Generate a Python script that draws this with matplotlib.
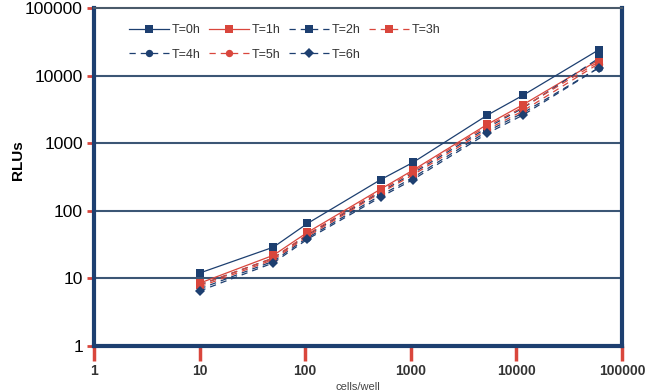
import numpy as np
import matplotlib
matplotlib.use("Agg")
from matplotlib import pyplot as plt
from matplotlib.ticker import FixedLocator, NullLocator

plt.rcParams['font.family'] = ['Liberation Sans', 'DejaVu Sans']

# cells per well (x) and RLU readings per time point
cells = [10, 50, 105, 520, 1050, 5300, 11500, 60000]
t0h = [12, 29, 65, 290, 520, 2600, 5100, 24000]
t1h = [8.5, 22, 48, 210, 400, 1900, 3700, 17000]
t2h = [8, 20, 44, 190, 360, 1700, 3300, 18000]
t3h = [8, 20, 45, 200, 380, 1800, 3400, 16000]
t4h = [7, 18, 40, 170, 310, 1500, 2800, 13000]
t5h = [7.5, 19, 42, 185, 340, 1600, 3000, 15000]
t6h = [6.5, 17, 38, 160, 290, 1400, 2600, 13000]

labels = ['T=0h', 'T=1h', 'T=2h', 'T=3h', 'T=4h', 'T=5h', 'T=6h']
series = [t0h, t1h, t2h, t3h, t4h, t5h, t6h]

navy = '#1d3f70'
red = '#d9463c'
styles = [
    (navy, '-', 's'),
    (red, '-', 's'),
    (navy, (0, (5, 4)), 's'),
    (red, (0, (5, 4)), 's'),
    (navy, (0, (5, 4)), 'o'),
    (red, (0, (5, 4)), 'o'),
    (navy, (0, (5, 4)), 'D'),
]

fig = plt.figure(figsize=(6.51, 3.91), dpi=100)
ax = fig.add_axes([0.1444, 0.1151, 0.8111, 0.8644])

handles = []
for vals, lab, (c, ls, m) in zip(series, labels, styles):
    h, = ax.plot(cells, vals, color=c, linestyle=ls, lw=0.9, marker=m,
                 markersize=5.3, markeredgewidth=0, label=lab)
    handles.append(h)

ax.set_xscale('log')
ax.set_yscale('log')
ax.set_xlim(1, 100000)
ax.set_ylim(1, 100000)

decades = [1, 10, 100, 1000, 10000, 100000]
ax.xaxis.set_major_locator(FixedLocator(decades))
ax.yaxis.set_major_locator(FixedLocator(decades))
ax.xaxis.set_minor_locator(NullLocator())
ax.yaxis.set_minor_locator(NullLocator())
ax.set_xticklabels([str(d) for d in decades], fontsize=10, fontweight='bold', color='#333333')
ax.set_yticklabels([str(d) for d in decades], fontsize=12.5, color='black')
ax.tick_params(axis='x', direction='out', length=11, width=2.5, color=red, pad=2)
ax.tick_params(axis='y', direction='out', length=5, width=2, color=red, pad=3)

# horizontal grid only
for g in [10, 100, 1000, 10000]:
    ax.axhline(g, color='#3b5675', lw=1.5, zorder=0)

for side in ['left', 'right', 'bottom']:
    ax.spines[side].set_color(navy)
    ax.spines[side].set_linewidth(3)
ax.spines['top'].set_color('#4a5a6a')
ax.spines['top'].set_linewidth(1.5)

fig.text(0.028, 0.59, 'RLUs', rotation=90, fontsize=11, fontweight='bold',
         ha='center', va='center')
ax.set_xlabel('cells/well', fontsize=8, color='#444444', labelpad=3)

# legend filled row by row: T=0h..T=3h on top, T=4h..T=6h below
order = [0, 4, 1, 5, 2, 6, 3]
leg = ax.legend([handles[i] for i in order], [labels[i] for i in order],
                loc='upper left', ncol=4, frameon=False, fontsize=9,
                handlelength=3.2, handletextpad=0.2, columnspacing=0.7,
                labelspacing=1.0, bbox_to_anchor=(0.045, 0.985))
for t in leg.get_texts():
    t.set_color('#333333')

fig.savefig('out.png', dpi=100)
